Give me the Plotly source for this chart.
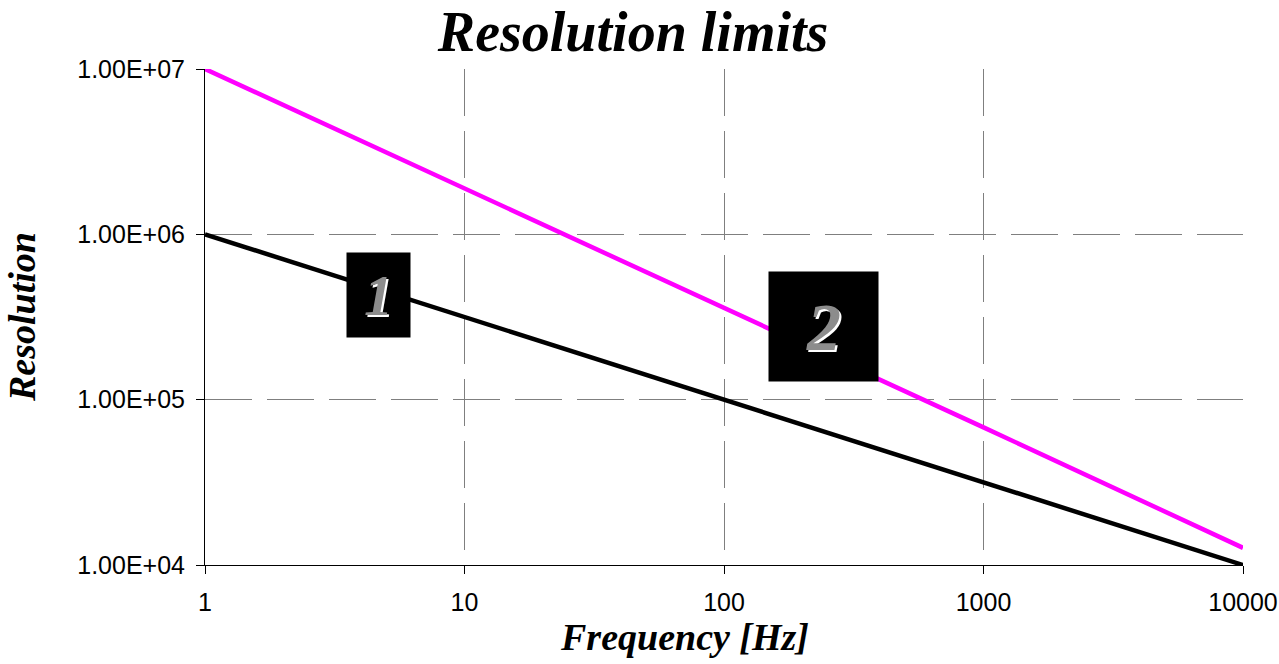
import plotly.graph_objects as go

# Frequency points (Hz) and resolution limits for the two cases
frequency = [1, 10, 100, 1000, 10000]
resolution_1 = [1.0e6, 3.16e5, 1.0e5, 3.16e4, 1.0e4]
resolution_2 = [1.0e7, 1.9e6, 3.6e5, 6.8e4, 1.27e4]

x_ticks = [1, 10, 100, 1000, 10000]
x_tick_labels = ["1", "10", "100", "1000", "10000"]
y_ticks = [1e4, 1e5, 1e6, 1e7]
y_tick_labels = ["1.00E+04", "1.00E+05", "1.00E+06", "1.00E+07"]

serif = "Liberation Serif, Times New Roman, serif"
sans = "Liberation Sans, Arial, sans-serif"

fig = go.Figure()
fig.add_trace(go.Scatter(x=frequency, y=resolution_2, mode="lines",
                         line=dict(color="#FF00FF", width=4.5), showlegend=False))
fig.add_trace(go.Scatter(x=frequency, y=resolution_1, mode="lines",
                         line=dict(color="#000000", width=4.5), showlegend=False))

axis_common = dict(
    showgrid=True, gridcolor="#7f7f7f", gridwidth=1, griddash="47px,15px",
    showline=True, linecolor="black", linewidth=1,
    ticks="outside", ticklen=8, tickcolor="black", tickwidth=1,
    tickfont=dict(family=sans, size=25, color="black"),
    zeroline=False, automargin=False,
)

fig.update_xaxes(type="log", range=[0, 4], tickvals=x_ticks, ticktext=x_tick_labels,
                 ticklabelstandoff=7, **axis_common)
fig.update_yaxes(type="log", range=[4, 7], tickvals=y_ticks, ticktext=y_tick_labels,
                 ticklabelstandoff=6, **axis_common)

# Axis titles
title_font = dict(family=serif, size=38, color="black")
fig.add_annotation(text="<b><i>Frequency [Hz]</i></b>", xref="paper", yref="paper",
                   x=0.462, y=-0.0995, xanchor="center", yanchor="top",
                   showarrow=False, font=title_font)
fig.add_annotation(text="<b><i>Resolution</i></b>", xref="paper", yref="paper",
                   x=-0.1763, y=0.5, xanchor="center", yanchor="middle",
                   textangle=-90, showarrow=False, font=title_font)

# Curve labels: grey numerals on black boxes
label_font = dict(family=serif, color="#8c8c8c", shadow="2px 2px 0px #ffffff")
fig.add_annotation(text="<b><i>1</i></b>", xref="paper", yref="paper",
                   x=0.1672, y=0.545, xanchor="center", yanchor="middle",
                   showarrow=False, width=63, height=84,
                   bgcolor="black", borderpad=0, font=dict(size=58, **label_font))
fig.add_annotation(text="<b><i>2</i></b>", xref="paper", yref="paper",
                   x=0.5958, y=0.481, xanchor="center", yanchor="middle",
                   showarrow=False, width=109, height=109,
                   bgcolor="black", borderpad=0, font=dict(size=68, **label_font))

fig.update_layout(
    width=1279, height=664,
    margin=dict(l=205, r=36, t=69, b=99),
    paper_bgcolor="white", plot_bgcolor="white",
    title=dict(text="<b><i>Resolution limits</i></b>", x=0.495, xanchor="center",
               y=0.953, yanchor="middle",
               font=dict(family=serif, size=56, color="black")),
)

fig.write_html("out.html")
